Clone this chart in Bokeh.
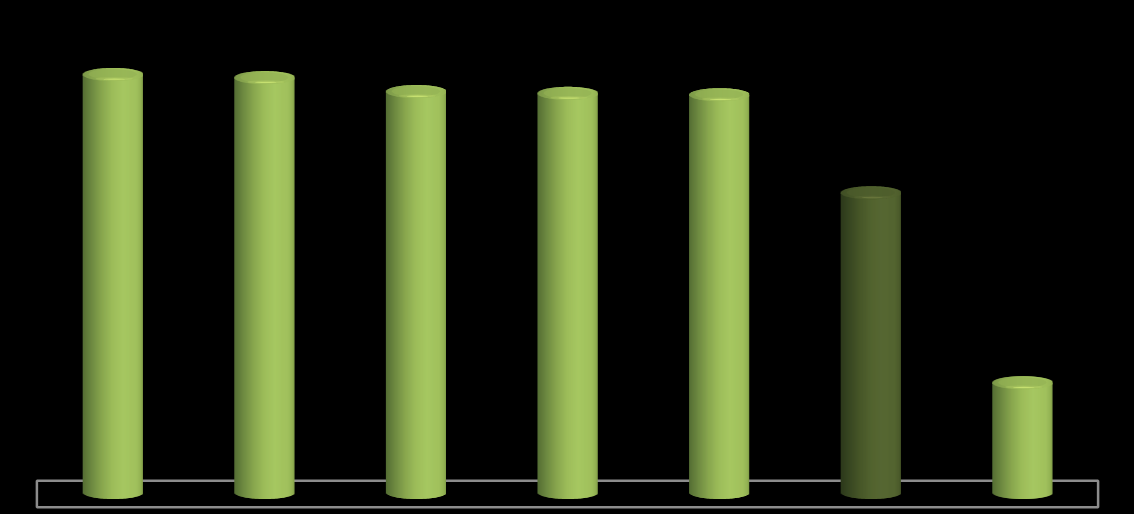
import numpy as np
from bokeh.plotting import figure
from bokeh.embed import file_html
from bokeh.resources import INLINE

categories = ["1", "2", "3", "4", "5", "6", "7"]
values = [92.9, 92.2, 89.1, 88.7, 88.4, 66.6, 24.4]

# styling
HIGHLIGHT = 5
DARK = 0.52
BAR_W = 0.396
CAP_V = 1.45      # half height of the cap ellipse in value units
BODY_STOPS_T = [0.0, 0.06, 0.16, 0.32, 0.50, 0.68, 0.90, 0.97, 1.0]
BODY_STOPS_C = [(0x54, 0x6e, 0x34), (0x5e, 0x78, 0x39), (0x6f, 0x8b, 0x42), (0x88, 0xa6, 0x4e),
                (0x9d, 0xbd, 0x5a), (0xa6, 0xc7, 0x61), (0xa0, 0xc0, 0x5c), (0x93, 0xb1, 0x53), (0x80, 0x9c, 0x48)]
CAP_BASE = (0x9c, 0xbb, 0x59)
CAP_FACE = (0x93, 0xb1, 0x53)
GLINT = (0xc6, 0xe0, 0x70)


def hexc(c, k):
    return "#%02x%02x%02x" % tuple(int(round(v * k)) for v in c)


def body_rgb(t):
    return np.array([np.interp(t, BODY_STOPS_T, [s[i] for s in BODY_STOPS_C]) for i in range(3)])


p = figure(width=1134, height=514, output_backend="svg", toolbar_location=None,
           x_range=(-0.2401, 7.2401), y_range=(-4.889, 109.334),
           background_fill_color="#000000", border_fill_color="#000000",
           min_border=0, outline_line_color=None)
p.axis.visible = False
p.grid.visible = False

# floor frame
p.quad(left=[0], right=[7], top=[2.6], bottom=[-3.3], fill_color=None,
       line_color="#8c8c8c", line_width=2.5)

N = 60
edges = np.linspace(-1, 1, N + 1)
mids = (edges[:-1] + edges[1:]) / 2
arc = np.sqrt(1 - mids ** 2)
for i, v in enumerate(values):
    k = DARK if i == HIGHLIGHT else 1.0
    c = i + 0.5
    left = c + edges[:-1] * BAR_W / 2
    right = c + np.minimum(edges[1:] + 2 / N, 1) * BAR_W / 2
    body = [body_rgb((m + 1) / 2) for m in mids]
    p.quad(left=left, right=right, top=np.full(N, v), bottom=-CAP_V * arc,
           fill_color=[hexc(b, k) for b in body], line_color=None)
    # cap: keeps some of the body's shading across its width
    cap = [b * 0.45 + np.array(CAP_BASE) * 0.55 for b in body]
    p.quad(left=left, right=right, top=v + CAP_V * arc, bottom=v - CAP_V * arc,
           fill_color=[hexc(b, k) for b in cap], line_color=None)
    p.ellipse(x=[c], y=[v + 0.06], width=BAR_W * 0.8, height=CAP_V * 1.55,
              fill_color=hexc(CAP_FACE, k), fill_alpha=0.6, line_color=None)
    # front rim glint, with a soft halo
    p.ellipse(x=[c + 0.01], y=[v - CAP_V * 0.66], width=BAR_W * 0.62, height=CAP_V * 0.5,
              fill_color=hexc(GLINT, k), fill_alpha=0.25, line_color=None)
    p.ellipse(x=[c + 0.01], y=[v - CAP_V * 0.72], width=BAR_W * 0.36, height=CAP_V * 0.2,
              fill_color=hexc(GLINT, k), line_color=None)

html = file_html(p, INLINE)
html = html.replace("</head>", "<style>html,body{margin:0;background:#000;overflow:hidden}</style></head>", 1)
open("out.html", "w").write(html)
